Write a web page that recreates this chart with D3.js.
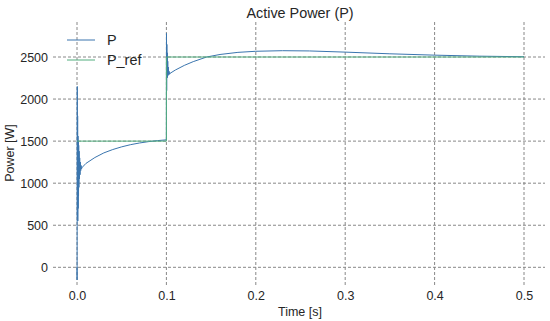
<!DOCTYPE html>
<html>
<head>
<meta charset="utf-8">
<script src="https://cdn.jsdelivr.net/npm/d3@7"></script>
<style>
  body { margin: 0; background: #fff; }
  svg { font-family: "Liberation Sans", Arial, sans-serif; }
</style>
</head>
<body>
<svg></svg>
<script>
// measured P signal (time in s, power in W)
let pTime = [0, 0.0001, 0.0003, 0.0005, 0.0007, 0.0009, 0.0011, 0.0013, 0.0015, 0.0017,
  0.0019, 0.0021, 0.0024, 0.0027, 0.003, 0.0034, 0.0038, 0.0042, 0.0046, 0.005,
  0.006, 0.01, 0.02, 0.03, 0.04, 0.05, 0.06, 0.07, 0.08, 0.09, 0.1,
  0.1001, 0.1003, 0.1005, 0.1007, 0.1009, 0.1012, 0.1015, 0.1018, 0.1022, 0.1026,
  0.103, 0.1035, 0.104, 0.11, 0.12, 0.13, 0.145, 0.16, 0.18, 0.2, 0.23, 0.26,
  0.3, 0.35, 0.4, 0.45, 0.5]
let pValue = [0, -150, 2150, 600, 1800, 550, 1560, 700, 1500, 850,
  1450, 950, 1380, 1050, 1300, 1100, 1250, 1150, 1210, 1170,
  1190, 1235, 1305, 1360, 1400, 1432, 1458, 1478, 1494, 1506, 1515,
  2780, 2100, 2650, 2250, 2550, 2260, 2450, 2280, 2380, 2290,
  2330, 2295, 2305, 2345, 2400, 2445, 2500, 2530, 2555, 2568, 2575, 2572,
  2558, 2538, 2522, 2510, 2503]

// reference P_ref
let refTime = [0, 0.1, 0.1, 0.5]
let refValue = [1500, 1500, 2500, 2500]

let xTicks = [0, 0.1, 0.2, 0.3, 0.4, 0.5]
let yTicks = [0, 500, 1000, 1500, 2000, 2500]

let w = 550
let h = 321
let gLeft = 53, gRight = 545, gTop = 22, gBottom = 285
let txt = '#262626'

let svg = d3.select('svg').attr('width', w).attr('height', h)

let xScale = d3.scaleLinear().domain([0, 0.5]).range([77, 524])
let yScale = d3.scaleLinear().domain([0, 2500]).range([267.3, 57])

// grid
svg.append('g').selectAll('line').data(xTicks).enter().append('line')
  .attr('x1', d => xScale(d)).attr('x2', d => xScale(d))
  .attr('y1', gTop).attr('y2', gBottom)
  .attr('stroke', '#888').attr('stroke-width', 1).attr('stroke-dasharray', '3,2')
svg.append('g').selectAll('line').data(yTicks).enter().append('line')
  .attr('x1', gLeft).attr('x2', gRight)
  .attr('y1', d => yScale(d)).attr('y2', d => yScale(d))
  .attr('stroke', '#888').attr('stroke-width', 1).attr('stroke-dasharray', '3,2')

// axes (labels only)
let xAxis = d3.axisBottom(xScale).tickValues(xTicks).tickFormat(d3.format('.1f')).tickSize(0).tickPadding(0)
let gx = svg.append('g').attr('transform', 'translate(0,' + 291 + ')').call(xAxis)
gx.select('.domain').remove()
gx.selectAll('text').attr('font-size', 12.5).attr('fill', txt).attr('dy', '0.71em')
  .style('font-family', '"Liberation Sans", Arial, sans-serif')

let yAxis = d3.axisLeft(yScale).tickValues(yTicks).tickFormat(d3.format('d')).tickSize(0).tickPadding(0)
let gy = svg.append('g').attr('transform', 'translate(' + 48 + ',0)').call(yAxis)
gy.select('.domain').remove()
gy.selectAll('text').attr('font-size', 12.5).attr('fill', txt)
  .style('font-family', '"Liberation Sans", Arial, sans-serif')

// lines
let pData = pTime.map((t, i) => [t, pValue[i]])
let refData = refTime.map((t, i) => [t, refValue[i]])
let line = d3.line().x(d => xScale(d[0])).y(d => yScale(d[1]))

svg.append('path').datum(pData).attr('d', line)
  .attr('fill', 'none').attr('stroke', '#3a75ae').attr('stroke-width', 1)
svg.append('path').datum(refData).attr('d', line)
  .attr('fill', 'none').attr('stroke', '#52ad7f').attr('stroke-width', 1)

// titles
svg.append('text').attr('x', 300).attr('y', 18).attr('text-anchor', 'middle')
  .attr('font-size', 14.4).attr('fill', txt).text('Active Power (P)')
svg.append('text').attr('x', 300).attr('y', 316).attr('text-anchor', 'middle')
  .attr('font-size', 12.5).attr('fill', txt).text('Time [s]')
svg.append('text').attr('transform', 'translate(14,153) rotate(-90)').attr('text-anchor', 'middle')
  .attr('font-size', 12.5).attr('fill', txt).text('Power [W]')

// legend
let legend = [['P', '#3a75ae', 40], ['P_ref', '#52ad7f', 60]]
legend.forEach(l => {
  svg.append('line').attr('x1', 67).attr('x2', 95).attr('y1', l[2]).attr('y2', l[2])
    .attr('stroke', l[1]).attr('stroke-width', 1)
  svg.append('text').attr('x', 107).attr('y', l[2] + 5).attr('font-size', 14.4)
    .attr('fill', txt).text(l[0])
})
</script>
</body>
</html>
